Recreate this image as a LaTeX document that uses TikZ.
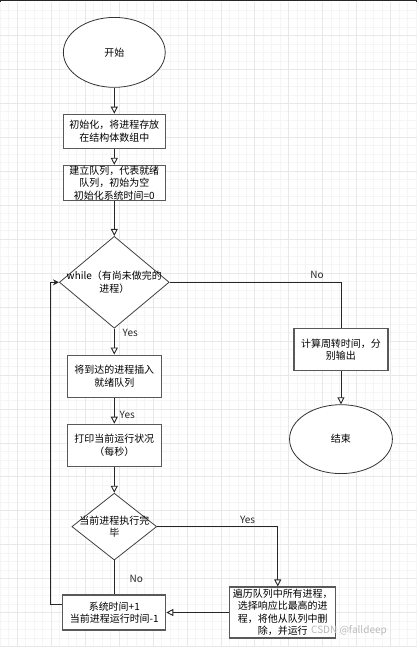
\documentclass[tikz,border=0pt]{standalone}
\usepackage{fontspec}
\setmainfont{Noto Sans CJK SC}
\usetikzlibrary{arrows.meta,positioning,shapes.geometric}

\begin{document}
\begin{tikzpicture}
    [x=1pt, y=-1pt,
    node distance=26pt,
    >={Triangle[width=7pt,length=7pt,fill=white]},
    font=\fontsize{10}{12.5}\selectfont,
    box/.style={
      rectangle,
      align=center,
      draw=black!65,
      fill=white,
      line width=1.2pt,
      inner sep=0.5pt,
      minimum width=102pt,
      minimum height=34pt},
    narrow/.style={minimum width=94pt, minimum height=42pt},
    decision/.style={
      diamond,
      draw=black!75,
      fill=white,
      line width=0.8pt,
      inner sep=0pt,
      minimum width=110pt,
      minimum height=92pt},
    terminal/.style={
      ellipse,
      draw=black!80,
      fill=white,
      line width=0.8pt,
      minimum width=102pt,
      minimum height=70pt},
    lbl/.style={inner sep=1pt, text=black!85},
    every path/.style={draw=black!85, line width=0.9pt}
    ]
    \useasboundingbox (0,0) rectangle (417,647);
    % background grid
    \foreach \k in {0,...,49}
      \draw[gray!8, line width=0.6pt] ({-0.3+8.5*\k},2) -- ({-0.3+8.5*\k},647);
    \foreach \k in {1,...,76}
      \draw[gray!8, line width=0.6pt] (0,{1+8.5*\k}) -- (417,{1+8.5*\k});
    \foreach \k in {0,...,11}
      \draw[gray!18, line width=0.6pt] ({16.7+34*\k},2) -- ({16.7+34*\k},647);
    \foreach \k in {1,...,19}
      \draw[gray!18, line width=0.6pt] (0,{1+34*\k}) -- (417,{1+34*\k});

    \node (0) [terminal] at (114,52) {开始};
    \node (1) [below=of 0] [box] {初始化，将进程存放\\在结构体数组中};
    \node (2) [below=16pt of 1] [box, minimum height=35pt, inner ysep=0pt] {建立队列，代表就绪\\队列，初始为空\\初始化系统时间=0};
    \node (3) [below=35pt of 2] [decision, label={[align=center]center:while（有尚未做完的\\进程）}] {};
    \node (4) [below=of 3] [box, narrow] {将到达的进程插入\\就绪队列};
    \node (5) [below=of 4] [box, narrow] {打印当前运行状况\\（每秒）};
    \node (6) [below=of 5] [decision, minimum width=85pt, minimum height=67pt,
      label={[align=center]center:当前进程执行完\\毕}] {};
    \node (7) [below=34pt of 6] [box, minimum width=103pt, minimum height=35pt] {系统时间+1\\当前进程运行时间-1};
    \node (8) [right=63pt of 7] [box, minimum width=106pt, minimum height=51pt] {遍历队列中所有进程，\\选择响应比最高的进\\程，将他从队列中删\\除，并运行};
    \node (9) [below right=46pt and 124pt of 3.east] [box, narrow] {计算周转时间，分\\别输出};
    \node (10) [below=33pt of 9] [terminal, minimum width=103pt, minimum height=69pt] {结束};
    \node (wm) at (349,631) [text=gray!55, font=\fontsize{10}{12}\selectfont] {CSDN @falldeep};

    \path[->]
      (0) edge (1)
      (1) edge (2)
      (2) edge (3)
      (3) edge node [lbl, right=7pt, pos=0.15] {Yes} (4)
      (4) edge node [lbl, right=4pt, pos=0.65] {Yes} (5)
      (5) edge (6)
      (8) edge (7)
      (9) edge (10);
    \draw (6) -- node [lbl, right=14pt, pos=0.53] {No} (7);
    \draw (3.east) -| node [lbl, above=2pt, pos=0.43] {No} (9.north);
    \draw[->] (6.east) -| node [lbl, above=2pt, pos=0.375] {Yes} ([xshift=-5pt]8.north);
    \coordinate (back) at ([xshift=-12pt, yshift=8.5pt]7.west);
    \draw[-{Stealth[length=6pt,width=6pt]}] ([yshift=8.5pt]7.west) -- (back) |- (3.west);
  \end{tikzpicture}
\end{document}
